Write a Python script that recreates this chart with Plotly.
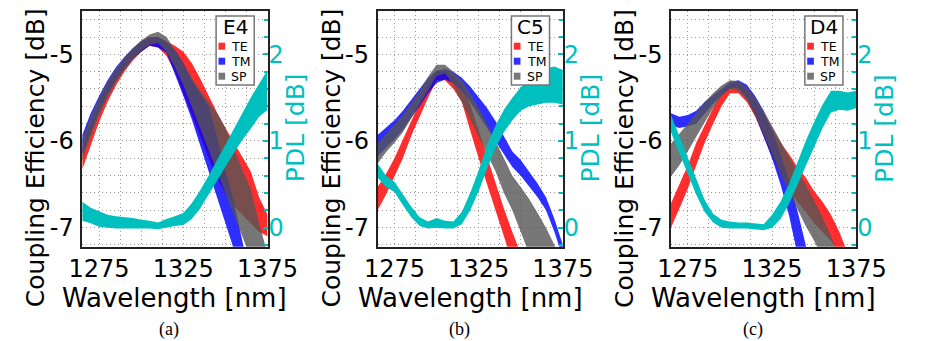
import plotly.graph_objects as go

# ---------------- data ----------------
WL = [1265, 1270, 1275, 1280, 1285, 1290, 1295, 1300, 1305, 1310, 1315, 1320,
      1325, 1330, 1335, 1340, 1345, 1350, 1355, 1360, 1365, 1370, 1375]

# panel (a)  E4
A_TE_HI = [-6.08, -5.80, -5.55, -5.35, -5.18, -5.05, -4.94, -4.85, -4.80, -4.80, -4.85, -4.90,
           -4.97, -5.10, -5.28, -5.48, -5.67, -5.85, -6.02, -6.18, -6.35, -6.65, -6.85]
A_TE_LO = [-6.33, -6.05, -5.78, -5.55, -5.36, -5.20, -5.07, -4.97, -4.90, -4.92, -5.02, -5.20,
           -5.45, -5.70, -5.95, -6.20, -6.42, -6.60, -6.75, -6.85, -6.95, -7.05, -7.10]
A_TM_HI = [-5.93, -5.68, -5.48, -5.30, -5.15, -5.03, -4.93, -4.85, -4.80, -4.80, -4.86, -4.95,
           -5.10, -5.30, -5.45, -5.60, -5.95, -6.35, -6.70, -7.20, -7.60, -7.90, -8.20]
A_TM_LO = [-6.15, -5.90, -5.66, -5.46, -5.30, -5.16, -5.05, -4.97, -4.90, -4.92, -4.98, -5.22,
           -5.48, -5.75, -6.05, -6.35, -6.65, -6.95, -7.25, -7.55, -7.90, -8.20, -8.50]
A_SP_HI = [-5.98, -5.72, -5.50, -5.32, -5.17, -5.04, -4.93, -4.84, -4.77, -4.74, -4.80, -4.95,
           -5.10, -5.27, -5.42, -5.55, -5.68, -5.85, -6.10, -6.33, -6.55, -6.95, -7.30]
A_SP_LO = [-6.22, -5.95, -5.70, -5.50, -5.32, -5.18, -5.06, -4.96, -4.89, -4.87, -4.97, -5.15,
           -5.35, -5.60, -5.85, -6.10, -6.35, -6.60, -6.85, -7.10, -7.35, -7.60, -7.85]
A_PDL_HI = [0.30, 0.23, 0.19, 0.15, 0.13, 0.12, 0.11, 0.09, 0.08, 0.06, 0.10, 0.13,
            0.17, 0.28, 0.43, 0.60, 0.78, 0.97, 1.14, 1.32, 1.50, 1.66, 1.82]
A_PDL_LO = [0.08, 0.05, 0.01, 0.00, -0.01, -0.01, -0.01, -0.01, -0.01, -0.02, 0.00, 0.02,
            0.03, 0.10, 0.22, 0.38, 0.53, 0.70, 0.86, 1.01, 1.14, 1.28, 1.36]

# panel (b)  C5
B_TE_HI = [-6.53, -6.38, -6.20, -5.98, -5.76, -5.55, -5.34, -5.19, -5.20, -5.27, -5.35, -5.58,
           -5.88, -6.18, -6.48, -6.78, -7.05, -7.30, -7.55, -7.80, -8.05, -8.30, -8.55]
B_TE_LO = [-6.80, -6.62, -6.42, -6.20, -5.94, -5.72, -5.50, -5.30, -5.30, -5.40, -5.55, -5.88,
           -6.20, -6.50, -6.82, -7.10, -7.40, -7.70, -8.00, -8.30, -8.60, -8.90, -9.20]
B_TM_HI = [-5.93, -5.85, -5.76, -5.65, -5.52, -5.40, -5.27, -5.19, -5.17, -5.20, -5.27, -5.37,
           -5.50, -5.62, -5.77, -5.95, -6.12, -6.22, -6.35, -6.49, -6.65, -6.90, -7.20]
B_TM_LO = [-6.18, -6.08, -5.98, -5.87, -5.73, -5.60, -5.45, -5.33, -5.29, -5.33, -5.42, -5.55,
           -5.70, -5.85, -6.00, -6.15, -6.30, -6.40, -6.52, -6.65, -6.80, -7.05, -7.35]
B_SP_HI = [-6.03, -5.92, -5.82, -5.70, -5.56, -5.42, -5.26, -5.12, -5.12, -5.20, -5.30, -5.45,
           -5.62, -5.80, -6.00, -6.20, -6.40, -6.53, -6.67, -6.83, -7.00, -7.20, -7.40]
B_SP_LO = [-6.26, -6.13, -6.02, -5.90, -5.74, -5.58, -5.42, -5.25, -5.22, -5.35, -5.55, -5.75,
           -5.95, -6.15, -6.35, -6.60, -6.80, -7.05, -7.30, -7.55, -7.80, -8.05, -8.30]
B_PDL_HI = [0.74, 0.60, 0.53, 0.38, 0.24, 0.12, 0.07, 0.11, 0.08, 0.07, 0.18, 0.40,
            0.66, 0.95, 1.18, 1.36, 1.50, 1.62, 1.70, 1.76, 1.84, 1.86, 1.82]
B_PDL_LO = [0.58, 0.47, 0.41, 0.26, 0.12, 0.02, -0.01, 0.00, -0.01, -0.01, 0.04, 0.20,
            0.42, 0.68, 0.92, 1.10, 1.24, 1.35, 1.40, 1.42, 1.44, 1.44, 1.42]

# panel (c)  D4
C_TE_HI = [-6.72, -6.50, -6.28, -6.02, -5.82, -5.62, -5.45, -5.34, -5.34, -5.40, -5.52, -5.68,
           -5.85, -6.02, -6.15, -6.30, -6.42, -6.58, -6.70, -6.85, -7.05, -7.30, -7.55]
C_TE_LO = [-7.00, -6.78, -6.55, -6.28, -6.02, -5.80, -5.60, -5.45, -5.45, -5.55, -5.72, -5.95,
           -6.18, -6.38, -6.55, -6.70, -6.82, -6.95, -7.05, -7.15, -7.30, -7.50, -7.70]
C_TM_HI = [-5.68, -5.72, -5.70, -5.65, -5.55, -5.47, -5.39, -5.32, -5.30, -5.35, -5.48, -5.65,
           -5.88, -6.15, -6.45, -6.80, -7.20, -7.60, -8.00, -8.40, -8.80, -9.20, -9.60]
C_TM_LO = [-5.82, -5.85, -5.83, -5.80, -5.68, -5.57, -5.47, -5.39, -5.38, -5.50, -5.70, -5.95,
           -6.20, -6.50, -6.85, -7.30, -7.70, -8.10, -8.50, -8.90, -9.30, -9.70, -10.10]
C_SP_HI = [-6.03, -5.92, -5.80, -5.68, -5.55, -5.45, -5.36, -5.30, -5.31, -5.38, -5.50, -5.65,
           -5.82, -6.00, -6.18, -6.35, -6.50, -6.70, -6.88, -7.10, -7.35, -7.60, -7.85]
C_SP_LO = [-6.41, -6.28, -6.12, -5.95, -5.78, -5.62, -5.48, -5.40, -5.42, -5.52, -5.70, -5.92,
           -6.15, -6.38, -6.58, -6.78, -6.98, -7.15, -7.35, -7.60, -7.80, -8.05, -8.30]
C_PDL_HI = [1.30, 1.05, 0.82, 0.55, 0.32, 0.16, 0.09, 0.07, 0.06, 0.06, 0.05, 0.04,
            0.15, 0.30, 0.50, 0.75, 1.00, 1.22, 1.42, 1.58, 1.58, 1.56, 1.58]
C_PDL_LO = [1.10, 0.85, 0.62, 0.38, 0.18, 0.06, 0.00, -0.01, -0.01, -0.01, -0.02, -0.03,
            0.00, 0.10, 0.27, 0.50, 0.72, 0.93, 1.15, 1.33, 1.36, 1.35, 1.38]

DEVICES = ["E4", "C5", "D4"]
CAPTIONS = ["(a)", "(b)", "(c)"]
SERIES = ["TE", "TM", "SP"]
CE_TICKS = [-7, -6, -5]
CE_TICK_TEXT = ["-7", "-6", "-5"]
PDL_TICKS = [0, 1, 2]
PDL_TICK_TEXT = ["0", "1", "2"]
WL_TICKS = [1275, 1325, 1375]
WL_TICK_TEXT = ["1275", "1325", "1375"]

# ---------------- style ----------------
W, H = 929, 341
FONT = "DejaVu Sans"
CYAN = "#00bfbf"
FILLS = {"TE": "rgba(255,0,0,0.82)", "TM": "rgba(0,0,255,0.82)", "SP": "rgba(85,85,85,0.8)"}
GRID = "#999999"

PLOT_LEFT = [72.7, 382.7, 690.7]
PLOT_W = 194.5
PLOT_TOP, PLOT_BOT = 11.0, 246.7
CAPTION_X = [163.3, 468.3, 776.7]


def fx(x):
    return x / W


def fy(y):
    return 1 - y / H


panels = [
    {"TE": (A_TE_HI, A_TE_LO), "TM": (A_TM_HI, A_TM_LO), "SP": (A_SP_HI, A_SP_LO), "PDL": (A_PDL_HI, A_PDL_LO)},
    {"TE": (B_TE_HI, B_TE_LO), "TM": (B_TM_HI, B_TM_LO), "SP": (B_SP_HI, B_SP_LO), "PDL": (B_PDL_HI, B_PDL_LO)},
    {"TE": (C_TE_HI, C_TE_LO), "TM": (C_TM_HI, C_TM_LO), "SP": (C_SP_HI, C_SP_LO), "PDL": (C_PDL_HI, C_PDL_LO)},
]

fig = go.Figure()
layout = {}
annotations = []
shapes = []

for i, pdata in enumerate(panels):
    xa = "x" if i == 0 else f"x{i + 1}"
    yl = "y" if i == 0 else f"y{2 * i + 1}"
    yr = f"y{2 * i + 2}"
    xa_key = "xaxis" if i == 0 else f"xaxis{i + 1}"
    yl_key = "yaxis" if i == 0 else f"yaxis{2 * i + 1}"
    yr_key = f"yaxis{2 * i + 2}"

    for s in SERIES:
        hi, lo = pdata[s]
        fig.add_trace(go.Scatter(
            x=WL + WL[::-1], y=hi + lo[::-1], fill="toself", fillcolor=FILLS[s],
            mode="lines", line=dict(width=0), name=s, showlegend=False,
            hoverinfo="skip", xaxis=xa, yaxis=yl))
    hi, lo = pdata["PDL"]
    fig.add_trace(go.Scatter(
        x=WL + WL[::-1], y=hi + lo[::-1], fill="toself", fillcolor=CYAN,
        mode="lines", line=dict(width=0, color=CYAN), name="PDL", showlegend=False,
        hoverinfo="skip", xaxis=xa, yaxis=yr))

    left = PLOT_LEFT[i]
    right = left + PLOT_W
    dom_x = [fx(left), fx(right)]
    dom_y = [fy(PLOT_BOT), fy(PLOT_TOP)]

    layout[xa_key] = dict(
        domain=dom_x, anchor=yl, range=[1265, 1375],
        tickmode="array", tickvals=WL_TICKS, ticktext=WL_TICK_TEXT,
        ticks="", tickfont=dict(family=FONT, size=24, color="black"),
        ticklabelstandoff=0,
        showgrid=True, gridcolor=GRID, gridwidth=1, griddash="1px,3px",
        minor=dict(tick0=1275, dtick=12.5, showgrid=True, gridcolor=GRID,
                   gridwidth=1, griddash="1px,3px", ticks=""),
        showline=True, linecolor="#222222", linewidth=1.5, mirror=True,
        zeroline=False, fixedrange=True)
    layout[yl_key] = dict(
        domain=dom_y, anchor=xa, range=[-7.22, -4.5],
        tickmode="array", tickvals=CE_TICKS, ticktext=CE_TICK_TEXT,
        ticks="", tickfont=dict(family=FONT, size=24, color="black"),
        ticklabelstandoff=2,
        showgrid=True, gridcolor=GRID, gridwidth=1, griddash="1px,3px",
        minor=dict(tick0=-7, dtick=0.2, showgrid=True, gridcolor=GRID,
                   gridwidth=1, griddash="1px,3px", ticks=""),
        showline=True, linecolor="#222222", linewidth=1.5, mirror=True,
        zeroline=False, fixedrange=True)
    layout[yr_key] = dict(
        domain=dom_y, anchor=xa, overlaying=yl, side="right", range=[-0.22, 2.5],
        tickmode="array", tickvals=PDL_TICKS, ticktext=PDL_TICK_TEXT,
        ticks="inside", ticklen=5, tickwidth=2, tickcolor=CYAN,
        tickfont=dict(family=FONT, size=24, color=CYAN), ticklabelstandoff=0,
        minor=dict(tick0=0, dtick=0.2, ticks="inside", ticklen=4, tickwidth=2,
                   tickcolor=CYAN, showgrid=False),
        showgrid=False, zeroline=False, showline=False, fixedrange=True)

    # axis titles
    annotations.append(dict(
        text="Coupling Efficiency [dB]", x=fx(left - 49.4), y=fy(158), xref="paper", yref="paper",
        textangle=-90, showarrow=False, xanchor="center", yanchor="middle",
        font=dict(family=FONT, size=25, color="black")))
    annotations.append(dict(
        text="PDL [dB]", x=fx(left + 223.5), y=fy(128), xref="paper", yref="paper",
        textangle=-90, showarrow=False, xanchor="center", yanchor="middle",
        font=dict(family=FONT, size=25, color=CYAN)))
    annotations.append(dict(
        text="Wavelength [nm]", x=fx((left + right) / 2), y=fy(297.5), xref="paper", yref="paper",
        showarrow=False, xanchor="center", yanchor="middle",
        font=dict(family=FONT, size=26, color="black")))
    annotations.append(dict(
        text=CAPTIONS[i], x=fx(CAPTION_X[i]), y=fy(329), xref="paper", yref="paper",
        showarrow=False, xanchor="center", yanchor="middle",
        font=dict(family="Liberation Serif", size=18, color="black")))

    # legend box (drawn by hand to match the small matplotlib legend)
    bx0 = left + 140.5
    shapes.append(dict(type="rect", xref="paper", yref="paper",
                       x0=fx(bx0), x1=fx(bx0 + 40), y0=fy(85), y1=fy(16),
                       line=dict(color="#777777", width=1.5), fillcolor="white", layer="above"))
    annotations.append(dict(
        text=DEVICES[i], x=fx(bx0 + 20), y=fy(27), xref="paper", yref="paper",
        showarrow=False, xanchor="center", yanchor="middle",
        font=dict(family=FONT, size=20, color="black")))
    for k, s in enumerate(SERIES):
        cy = 46.2 + 15.0 * k
        shapes.append(dict(type="rect", xref="paper", yref="paper",
                           x0=fx(bx0 + 2.5), x1=fx(bx0 + 9.5), y0=fy(cy + 3.5), y1=fy(cy - 3.5),
                           line=dict(width=0), fillcolor=FILLS[s], layer="above"))
        annotations.append(dict(
            text=s, x=fx(bx0 + 14), y=fy(cy), xref="paper", yref="paper",
            showarrow=False, xanchor="left", yanchor="middle",
            font=dict(family=FONT, size=12.5, color="black")))

fig.update_layout(
    width=W, height=H, margin=dict(l=0, r=0, t=0, b=0),
    paper_bgcolor="white", plot_bgcolor="white",
    showlegend=False, annotations=annotations, shapes=shapes,
    **layout)

fig.write_html("out.html")
